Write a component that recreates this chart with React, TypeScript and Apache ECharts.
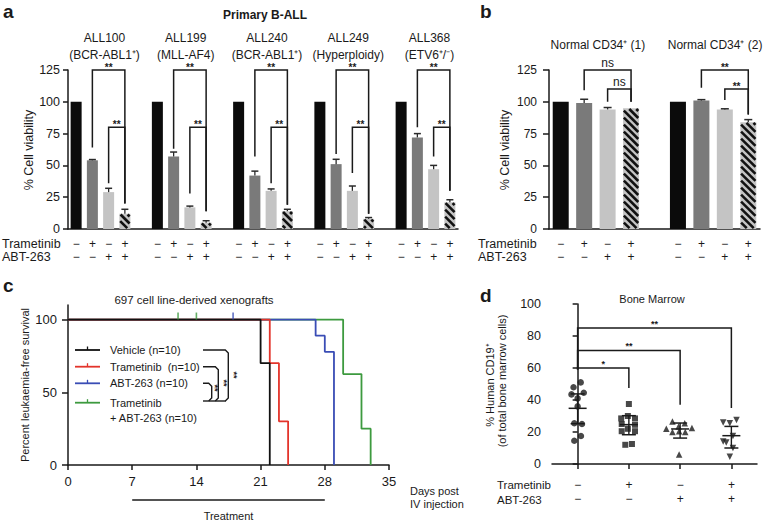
import React, { useEffect, useRef } from 'react';
import * as echarts from 'echarts';

const FONT = '"Liberation Sans", Arial, Helvetica, sans-serif';
const INK = '#1a1a1a';

// ---------------- Panel a: primary B-ALL ----------------
const aPatients = ['ALL100', 'ALL199', 'ALL240', 'ALL249', 'ALL368'];
const aSubtypes = ['(BCR-ABL1⁺)', '(MLL-AF4)', '(BCR-ABL1⁺)', '(Hyperploidy)', '(ETV6⁺/⁻)'];
const treatments = ['Vehicle', 'Trametinib', 'ABT-263', 'Trametinib + ABT-263'];
const trametinibSigns = ['−', '+', '−', '+'];
const abtSigns = ['−', '−', '+', '+'];
const aViability = [
  [100, 54, 29, 12],
  [100, 57, 17, 5],
  [100, 42, 30, 14],
  [100, 51, 30, 8],
  [100, 72, 47, 21],
];
const aError = [
  [0, 0.6, 3, 3.5],
  [0, 3.5, 1, 1.5],
  [0, 3.5, 1.5, 1.5],
  [0, 3.8, 3.8, 1],
  [0, 3, 3, 2],
];
// [patient, from bar, to bar, bracket level, left leg end, right leg end]
const aBrackets = [
  [0, 1, 3, 125, 64, 20], [0, 2, 3, 80, 36, 20],
  [1, 1, 3, 125, 63, 14], [1, 2, 3, 80, 28, 14],
  [2, 1, 3, 125, 57, 19], [2, 2, 3, 80, 36, 19],
  [3, 1, 3, 125, 59, 12], [3, 2, 3, 80, 44, 12],
  [4, 1, 3, 125, 80, 30], [4, 2, 3, 80, 57, 30],
];
const aBracketLabels = ['**', '**', '**', '**', '**', '**', '**', '**', '**', '**'];
const viabilityTicks = [0, 25, 50, 75, 100, 125];

// ---------------- Panel b: normal CD34+ ----------------
const bDonors = ['Normal CD34⁺ (1)', 'Normal CD34⁺ (2)'];
const bViability = [
  [100, 99, 94, 95],
  [100, 101, 94, 84],
];
const bError = [
  [0, 3, 1.5, 0],
  [0, 0.7, 0.5, 2],
];
const bBrackets = [
  [0, 1, 3, 125, 109, 100], [0, 2, 3, 110, 100, 100],
  [1, 1, 3, 125, 111, 90], [1, 2, 3, 110, 101.5, 90],
];
const bBracketLabels = ['ns', 'ns', '**', '**'];

// ---------------- Panel c: survival ----------------
const kmGroups = ['Vehicle (n=10)', 'Trametinib  (n=10)', 'ABT-263 (n=10)', 'Trametinib\n+ ABT-263 (n=10)'];
const kmColors = ['#111111', '#e3342b', '#3a4db5', '#3d9a3f'];
const kmVehicle = [[0, 100], [21, 70], [22, 0]];
const kmTrametinib = [[0, 100], [22, 70], [23, 30], [24, 0]];
const kmAbt = [[0, 100], [27, 88.9], [28, 77.8], [29, 0]];
const kmCombo = [[0, 100], [30, 62.5], [32, 25], [33, 0]];
const kmCurves = [kmVehicle, kmTrametinib, kmAbt, kmCombo];
const kmCensored = [[], [], [[18, 100]], [[12, 100], [14, 100]]];
const dayTicks = [0, 7, 14, 21, 28, 35];
const survivalTicks = [0, 50, 100];
const treatmentWindow = [7, 28];

// ---------------- Panel d: bone marrow ----------------
const dGroups = ['Vehicle', 'Trametinib', 'ABT-263', 'Trametinib + ABT-263'];
const dVehicle = [51, 48, 43.5, 44.5, 41, 36, 25.5, 25, 14.5, 17.5];
const dVehicleJitter = [0.06, -0.08, -0.12, 0.12, 0, 0, -0.065, 0.085, -0.065, 0.065];
const dTrametinib = [37.5, 30, 28.5, 28.5, 25, 24.5, 22, 20.5, 20.5, 12, 12.5];
const dTrametinibJitter = [0, -0.02, -0.15, 0.12, -0.14, 0.12, -0.02, -0.14, 0.12, -0.07, 0.06];
const dAbt = [26.5, 25.5, 22, 22.5, 23.5, 20, 20.5, 20, 6];
const dAbtJitter = [-0.15, 0.09, -0.27, 0.23, -0.03, -0.15, -0.02, 0.1, -0.02];
const dCombo = [26, 27.5, 25.5, 17.5, 14, 13.5, 10, 4.5];
const dComboJitter = [-0.16, 0.1, -0.03, 0.03, -0.16, -0.1, 0.03, -0.03];
const dMean = [34.8, 24.6, 21.9, 17.7];
const dLow = [25.2, 18.3, 16.2, 10];
const dHigh = [43.8, 30.2, 25.6, 23.5];
const dSymbols = ['circle', 'rect', 'triangle', 'triangle'];
const dSymbolRotate = [0, 0, 0, 180];
// [from group, to group, level, left leg end, right leg end]
const dBrackets = [
  [0, 1, 60, 59, 47.5],
  [0, 2, 71, 59, 37],
  [0, 3, 85, 59, 35],
];
const dBracketLabels = ['*', '**', '**'];
const cd19Ticks = [0, 20, 40, 60, 80, 100];

// ---------------- helpers ----------------
const SLOT = 5; // four bars plus a gap
const slotOf = (g: number, t: number) => g * SLOT + t;
function slotLabels(nGroups: number) {
  const out: string[] = [];
  for (let g = 0; g < nGroups; g++) {
    for (let t = 0; t < 4; t++) out.push(`${trametinibSigns[t]}\n${abtSigns[t]}`);
    if (g < nGroups - 1) out.push('');
  }
  return out;
}
const barColors = ['#0b0b0b', '#7a7a7a', '#c4c4c4', '#c4c4c4'];

function txt(text: string, x: number, y: number, o: any = {}) {
  const align = o.align || 'left';
  const valign = o.valign || 'middle';
  return {
    type: 'text', x, y, rotation: o.rotation || 0, silent: true, z: 50,
    style: {
      text, fill: o.color || INK, fontSize: o.size || 12, fontFamily: FONT,
      fontWeight: o.weight || 'normal', lineHeight: o.lineHeight,
      textAlign: align, textVerticalAlign: valign, align, verticalAlign: valign,
    },
  };
}
const line = (x1: number, y1: number, x2: number, y2: number, color = INK, w = 1.5) => ({
  type: 'line', silent: true, shape: { x1, y1, x2, y2 }, style: { stroke: color, lineWidth: w },
});

function viabilitySeries(means: number[][], errs: number[][], brackets: number[][], bLabels: string[],
  names: string[], subs: string[] | null, axis: number, barWidth: number, capHalf: number) {
  const series: any[] = [];
  treatments.forEach((name, t) => {
    series.push({
      type: 'bar', name, xAxisIndex: axis, yAxisIndex: axis, barWidth, barGap: '-100%', silent: true, z: 2,
      data: means.map((m, g) => [slotOf(g, t), m[t]]),
      itemStyle: { color: barColors[t] },
    });
  });
  // diagonal hatching of the combination bars
  series.push({
    type: 'custom', xAxisIndex: axis, yAxisIndex: axis, z: 3, silent: true,
    data: means.map((m, g) => [slotOf(g, 3), m[3]]),
    renderItem: (p: any, api: any) => {
      const x = api.value(0), v = api.value(1);
      const base = api.coord([x, 0]), top = api.coord([x, v]);
      const L = base[0] - barWidth / 2 + 0.8, R = base[0] + barWidth / 2 - 0.8;
      const T = top[1] + 0.8, B = base[1] - 0.8;
      const children: any[] = [];
      const step = 7;
      for (let k = -(R - L) + 2; k < B - T; k += step) {
        const xa = Math.max(L, L - k);
        const xb = Math.min(R, L + (B - T) - k);
        if (xb > xa) children.push(line(xa, T + (xa - L) + k, xb, T + (xb - L) + k, '#111', 2.6));
      }
      return { type: 'group', children };
    },
  });
  // error bars (upper)
  const errData: number[][] = [];
  means.forEach((m, g) => m.forEach((v, t) => { if (errs[g][t] > 0) errData.push([slotOf(g, t), v, errs[g][t]]); }));
  series.push({
    type: 'custom', xAxisIndex: axis, yAxisIndex: axis, z: 4, silent: true, data: errData,
    renderItem: (p: any, api: any) => {
      const x = api.value(0), m = api.value(1), e = api.value(2);
      const a = api.coord([x, m]), b = api.coord([x, m + e]);
      return {
        type: 'group', children: [
          line(a[0], a[1], b[0], b[1], '#2a2a2a', 1.3),
          line(b[0] - capHalf, b[1], b[0] + capHalf, b[1], '#2a2a2a', 1.5),
        ],
      };
    },
  });
  // significance brackets
  series.push({
    type: 'custom', xAxisIndex: axis, yAxisIndex: axis, z: 5, silent: true, clip: false,
    data: brackets.map((b) => [slotOf(b[0], b[1]), slotOf(b[0], b[2]), b[3], b[4], b[5]]),
    renderItem: (p: any, api: any) => {
      const x1 = api.value(0), x2 = api.value(1), lv = api.value(2), le = api.value(3), re = api.value(4);
      const a = api.coord([x1, lv]), b = api.coord([x2, lv]);
      const la = api.coord([x1, le]), rb = api.coord([x2, re]);
      const lab = bLabels[p.dataIndex];
      const isNs = lab === 'ns';
      return {
        type: 'group', children: [
          { type: 'polyline', shape: { points: [[la[0], la[1]], [a[0], a[1]], [b[0], b[1]], [rb[0], rb[1]]] }, style: { stroke: INK, lineWidth: 1.5, fill: 'none' } },
          txt(lab, (a[0] + b[0]) / 2, a[1] - (isNs ? 1 : 3), { align: 'center', valign: isNs ? 'bottom' : 'middle', size: isNs ? 12 : 10, weight: isNs ? 'normal' : 'bold' }),
        ],
      };
    },
  });
  // group titles above the plot
  series.push({
    type: 'custom', xAxisIndex: axis, yAxisIndex: axis, silent: true, clip: false,
    data: names.map((_, g) => [slotOf(g, 0), slotOf(g, 3)]),
    renderItem: (p: any, api: any) => {
      const top = viabilityTicks[viabilityTicks.length - 1];
      const l = api.coord([api.value(0), top]), r = api.coord([api.value(1), top]);
      const i = p.dataIndex;
      if (subs) {
        const cx = (l[0] + r[0]) / 2 + 4;
        return { type: 'group', children: [txt(names[i], cx, l[1] - 32, { align: 'center' }), txt(subs[i], cx, l[1] - 15, { align: 'center' })] };
      }
      const cx = (l[0] + r[0]) / 2 + 2;
      return { type: 'group', children: [txt(names[i], cx, l[1] - 25, { align: 'center' })] };
    },
  });
  return series;
}

const axisLineStyle = { show: true, lineStyle: { color: INK, width: 1.5 } };
const tickStyle = (len: number) => ({ show: true, length: len, lineStyle: { color: INK, width: 1.5 } });
const labelBase = (size: number, margin: number) => ({ color: INK, fontSize: size, fontFamily: FONT, margin });

function buildOption(): any {
  const aLabels = slotLabels(aPatients.length);
  const bLabels = slotLabels(bDonors.length);
  const dLabels = dGroups.map((_, i) => `${trametinibSigns[i]}\n${abtSigns[i]}`);

  const catAxis = (grid: number, labels: string[], margin: number, lh: number, ticks: boolean) => ({
    type: 'category', gridIndex: grid, data: labels.map((_, i) => 'c' + i),
    axisLine: axisLineStyle, axisTick: ticks ? { ...tickStyle(5), alignWithLabel: true, interval: 0 } : { show: false },
    axisLabel: { ...labelBase(12, margin), interval: 0, lineHeight: lh, formatter: (_v: any, i: number) => labels[i] },
    splitLine: { show: false },
  });

  const series: any[] = [
    ...viabilitySeries(aViability, aError, aBrackets, aBracketLabels, aPatients, aSubtypes, 0, 11, 3.5),
    ...viabilitySeries(bViability, bError, bBrackets, bBracketLabels, bDonors, null, 1, 16, 4),
  ];

  // panel c: Kaplan–Meier curves (drawn so vehicle is on top)
  kmCurves.forEach((data, i) => {
    series.push({
      type: 'line', name: kmGroups[i], xAxisIndex: 2, yAxisIndex: 2, step: 'end', data, symbol: 'none',
      silent: true, z: 10 - i, lineStyle: { color: kmColors[i], width: 1.8 },
    });
    if (kmCensored[i].length) {
      series.push({
        type: 'scatter', xAxisIndex: 2, yAxisIndex: 2, data: kmCensored[i], symbol: 'rect', symbolSize: [1.6, 7],
        symbolOffset: [0, -3.5], itemStyle: { color: kmColors[i] }, silent: true, z: 12,
      });
    }
  });
  series.push({
    type: 'custom', xAxisIndex: 2, yAxisIndex: 2, silent: true, clip: false, data: [treatmentWindow],
    renderItem: (p: any, api: any) => {
      const a = api.coord([api.value(0), 0]), b = api.coord([api.value(1), 0]);
      return {
        type: 'group', children: [
          line(a[0], a[1] + 35, b[0], b[1] + 35, INK, 1.3),
          txt('Treatment', (a[0] + b[0]) / 2, a[1] + 50.5, { align: 'center', size: 11 }),
        ],
      };
    },
  });

  // panel d
  const dSets = [dVehicle, dTrametinib, dAbt, dCombo];
  const dJit = [dVehicleJitter, dTrametinibJitter, dAbtJitter, dComboJitter];
  dSets.forEach((vals, g) => {
    series.push({
      type: 'scatter', name: dGroups[g], xAxisIndex: 4, yAxisIndex: 3, silent: true, z: 5,
      data: vals.map((v, k) => [g + dJit[g][k], v]),
      symbol: dSymbols[g], symbolRotate: dSymbolRotate[g], symbolSize: g === 0 ? 6.5 : g === 1 ? 6 : 6.5,
      itemStyle: { color: INK },
    });
  });
  series.push({
    type: 'custom', xAxisIndex: 4, yAxisIndex: 3, silent: true, z: 6,
    data: dMean.map((m, i) => [i, m, dLow[i], dHigh[i]]),
    renderItem: (p: any, api: any) => {
      const i = api.value(0);
      const m = api.coord([i, api.value(1)]), lo = api.coord([i, api.value(2)]), hi = api.coord([i, api.value(3)]);
      return {
        type: 'group', children: [
          line(m[0], lo[1], m[0], hi[1], INK, 1.4),
          line(m[0] - 9, m[1], m[0] + 9, m[1], INK, 1.5),
          line(m[0] - 7, lo[1], m[0] + 7, lo[1], INK, 1.5),
          line(m[0] - 7, hi[1], m[0] + 7, hi[1], INK, 1.5),
        ],
      };
    },
  });
  series.push({
    type: 'custom', xAxisIndex: 4, yAxisIndex: 3, silent: true, clip: false, z: 6,
    data: dBrackets,
    renderItem: (p: any, api: any) => {
      const x1 = api.value(0), x2 = api.value(1), lv = api.value(2), le = api.value(3), re = api.value(4);
      const a = api.coord([x1, lv]), b = api.coord([x2, lv]);
      const la = api.coord([x1, le]), rb = api.coord([x2, re]);
      return {
        type: 'group', children: [
          { type: 'polyline', shape: { points: [[la[0], la[1]], [a[0], a[1]], [b[0], b[1]], [rb[0], rb[1]]] }, style: { stroke: INK, lineWidth: 1.5, fill: 'none' } },
          txt(dBracketLabels[p.dataIndex], (a[0] + b[0]) / 2, a[1] - 4, { align: 'center', size: 9, weight: 'bold' }),
        ],
      };
    },
  });

  // graphic texts and legend
  const g: any[] = [
    txt('a', 3, 11, { size: 19, weight: 'bold' }),
    txt('b', 480, 11, { size: 19, weight: 'bold' }),
    txt('c', 3, 285, { size: 19, weight: 'bold' }),
    txt('d', 480, 295, { size: 19, weight: 'bold' }),
    txt('Primary B-ALL', 265, 15, { align: 'center', weight: 'bold', size: 12 }),
    txt('% Cell viability', 29, 150, { align: 'center', rotation: Math.PI / 2, size: 12.5 }),
    txt('% Cell viability', 505, 150, { align: 'center', rotation: Math.PI / 2, size: 12.5 }),
    txt('Trametinib', 2, 244, { size: 12.5 }),
    txt('ABT-263', 2, 257, { size: 12.5 }),
    txt('Trametinib', 478, 244, { size: 12.5 }),
    txt('ABT-263', 478, 257, { size: 12.5 }),
    txt('697 cell line-derived xenografts', 194, 300, { align: 'center', size: 11.5 }),
    txt('Percent leukaemia-free survival', 25, 385, { align: 'center', rotation: Math.PI / 2, size: 11 }),
    txt('Days post', 410, 491, { size: 11 }),
    txt('IV injection', 410, 503.5, { size: 11 }),
    txt('Bone Marrow', 652, 299, { align: 'center', size: 11 }),
    txt('% Human CD19⁺', 490, 385, { align: 'center', rotation: Math.PI / 2, size: 11 }),
    txt('(of total bone marrow cells)', 502, 381, { align: 'center', rotation: Math.PI / 2, size: 11 }),
    txt('Trametinib', 497, 485, { size: 11.5 }),
    txt('ABT-263', 497, 499.5, { size: 11.5 }),
  ];
  const legendY = [350, 366.7, 383.3, 402.7];
  kmGroups.forEach((name, i) => {
    const y = legendY[i];
    g.push(line(75, y, 100, y, kmColors[i], 1.8));
    g.push(line(87.5, y, 87.5, y - 3.5, kmColors[i], 1.3));
    g.push(txt(name, 110, y - 7.8, { valign: 'top', size: 11, lineHeight: 15.6 }));
  });
  const bottomY = 401;
  const bracketRight = [228.3, 218.3, 211.7];
  bracketRight.forEach((xr, i) => {
    const y = legendY[i];
    g.push({ type: 'polyline', silent: true, shape: { points: [[203, y], [xr - 3, y], [xr, y + 3], [xr, bottomY - 3], [xr - 3, bottomY]] }, style: { stroke: INK, lineWidth: 1.4, fill: 'none' } });
  });
  g.push(line(203, bottomY, 226, bottomY, INK, 1.4));
  [[214.6, 388], [223.5, 383], [234.2, 375]].forEach(([x, y]) => {
    g.push(txt('**', x, y, { align: 'center', size: 9, weight: 'bold', rotation: -Math.PI / 2 }));
  });

  return {
    animation: false,
    backgroundColor: '#ffffff',
    textStyle: { fontFamily: FONT },
    grid: [
      { left: 68, top: 70, width: 390, height: 159, outerBoundsMode: 'none', containLabel: false },
      { left: 549, top: 70, width: 211, height: 159, outerBoundsMode: 'none', containLabel: false },
      { left: 68, top: 305, width: 321, height: 160, outerBoundsMode: 'none', containLabel: false },
      { left: 552, top: 304, width: 205, height: 160, outerBoundsMode: 'none', containLabel: false },
    ],
    xAxis: [
      catAxis(0, aLabels, 8.5, 13, false),
      catAxis(1, bLabels, 8.5, 13, false),
      {
        type: 'value', gridIndex: 2, min: dayTicks[0], max: dayTicks[dayTicks.length - 1], interval: 7,
        axisLine: axisLineStyle, axisTick: tickStyle(5), axisLabel: labelBase(13, 10), splitLine: { show: false },
      },
      catAxis(3, dLabels, 13.5, 14, true),
      { type: 'value', gridIndex: 3, min: -0.5, max: 3.5, show: false, splitLine: { show: false } },
    ],
    yAxis: [
      {
        type: 'value', gridIndex: 0, min: 0, max: 125, interval: 25, axisLine: axisLineStyle, axisTick: tickStyle(5),
        axisLabel: labelBase(12.5, 8), splitLine: { show: false },
      },
      {
        type: 'value', gridIndex: 1, min: 0, max: 125, interval: 25, axisLine: axisLineStyle, axisTick: tickStyle(6),
        axisLabel: labelBase(12, 12), splitLine: { show: false },
      },
      {
        type: 'value', gridIndex: 2, min: 0, max: 110, axisLine: axisLineStyle,
        axisTick: { ...tickStyle(6), customValues: survivalTicks },
        axisLabel: { ...labelBase(13, 11), customValues: survivalTicks }, splitLine: { show: false },
      },
      {
        type: 'value', gridIndex: 3, min: 0, max: 100, interval: 20, axisLine: axisLineStyle, axisTick: tickStyle(5),
        axisLabel: labelBase(12.5, 11), splitLine: { show: false },
      },
    ],
    series,
    graphic: { elements: g },
  };
}

export default function App() {
  const ref = useRef<HTMLDivElement>(null);
  useEffect(() => {
    const chart = echarts.init(ref.current as HTMLDivElement, null, { renderer: 'svg' });
    chart.setOption(buildOption());
    return () => chart.dispose();
  }, []);
  return <div ref={ref} style={{ position: 'absolute', left: 0, top: 0, width: 765, height: 520 }} />;
}
